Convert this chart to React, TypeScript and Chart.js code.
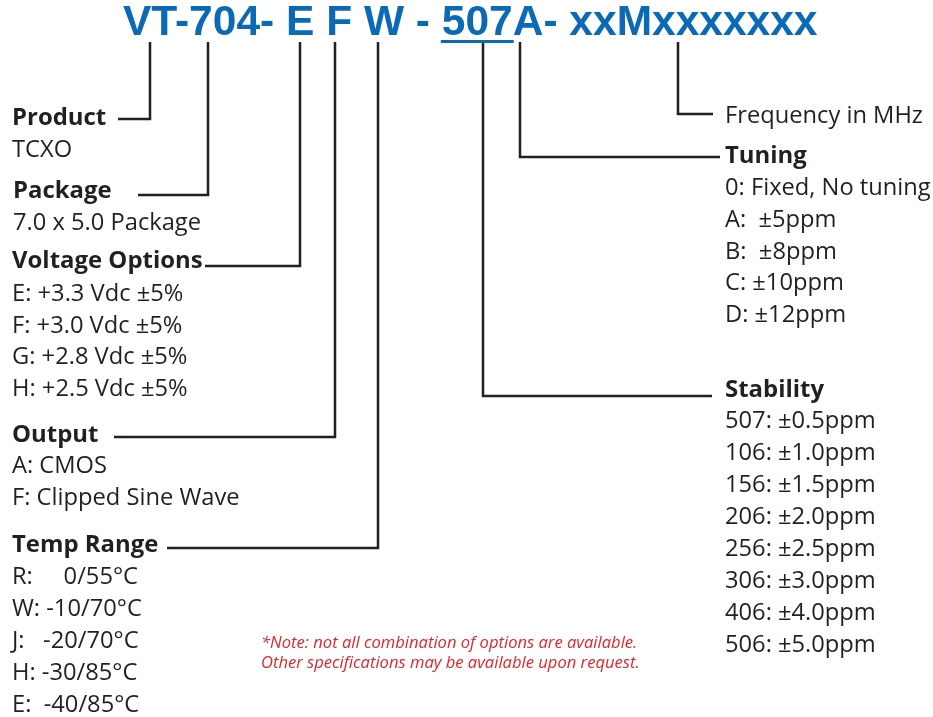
import { useEffect, useRef } from "react";
import { Chart, registerables } from "chart.js";

Chart.register(...registerables);

// ---------- content ----------
const titleText = "VT-704- E F W - 507A- xxMxxxxxxx";
const titleUnderlinePrefix = "VT-704- E F W - ";
const titleUnderlinePart = "507";

const productItems = ["TCXO"];
const packageItems = ["7.0 x 5.0 Package"];
const voltageItems = ["E: +3.3 Vdc \u00B15%", "F: +3.0 Vdc \u00B15%", "G: +2.8 Vdc \u00B15%", "H: +2.5 Vdc \u00B15%"];
const outputItems = ["A: CMOS", "F: Clipped Sine Wave"];
const tempItems = ["R:     0/55\u00B0C", "W: -10/70\u00B0C", "J:   -20/70\u00B0C", "H: -30/85\u00B0C", "E:  -40/85\u00B0C"];
const frequencyLabel = "Frequency in MHz";
const tuningItems = ["0: Fixed, No tuning", "A:  \u00B15ppm", "B:  \u00B18ppm", "C: \u00B110ppm", "D: \u00B112ppm"];
const stabilityItems = ["507: \u00B10.5ppm", "106: \u00B11.0ppm", "156: \u00B11.5ppm", "206: \u00B12.0ppm", "256: \u00B12.5ppm", "306: \u00B13.0ppm", "406: \u00B14.0ppm", "506: \u00B15.0ppm"];
const noteLines = ["*Note: not all combination of options are available.", "Other specifications may be available upon request."];

// connector geometry (diagram units, 1 unit = 1 px)
const connectorX = [150, 208, 300, 335, 378, 483, 520, 678];
const connectorElbowY = [119, 195, 266, 437, 548, 396, 157, 114];
const connectorEndX = [118, 138, 205, 114, 167, 712, 720, 713];
const connectorTopY = 42;

// ---------- layout / style ----------
const W = 933;
const H = 717;
const INK = "#231f20";
const BLUE = "#0a6ab6";
const RED = "#e3242b";
const BODY_FONT = "'Open Sans', 'Noto Sans', sans-serif";
const BODY_SIZE = 23;
const BODY_SX = 1.03;
const HEAD_SX = 1.04;
const NOTE_SIZE = 17;
const NOTE_SX = 0.975;

type Section = { heading: string | null; items: string[]; x: number; headY: number; itemY: number; step: number };
const sections: Section[] = [
  { heading: "Product", items: productItems, x: 12, headY: 125, itemY: 157, step: 32 },
  { heading: "Package", items: packageItems, x: 13, headY: 198, itemY: 230, step: 32 },
  { heading: "Voltage Options", items: voltageItems, x: 12, headY: 268, itemY: 301, step: 31.7 },
  { heading: "Output", items: outputItems, x: 12, headY: 442, itemY: 473, step: 32 },
  { heading: "Temp Range", items: tempItems, x: 12, headY: 552, itemY: 584, step: 32 },
  { heading: null, items: [frequencyLabel], x: 725, headY: 0, itemY: 123, step: 32 },
  { heading: "Tuning", items: tuningItems, x: 725, headY: 163, itemY: 195, step: 31.8 },
  { heading: "Stability", items: stabilityItems, x: 725, headY: 397, itemY: 428, step: 32 },
];

function drawScaledText(ctx: CanvasRenderingContext2D, text: string, x: number, y: number, sx: number) {
  ctx.save();
  ctx.translate(x, y);
  ctx.scale(sx, 1);
  ctx.fillText(text, 0, 0);
  ctx.restore();
}

const textPlugin = {
  id: "diagramText",
  afterDraw(chart: any) {
    const ctx: CanvasRenderingContext2D = chart.ctx;
    const sx = chart.scales.x;
    const sy = chart.scales.y;
    const px = (v: number) => sx.getPixelForValue(v);
    const py = (v: number) => sy.getPixelForValue(v);
    ctx.save();
    ctx.textBaseline = "alphabetic";
    ctx.textAlign = "left";

    // title
    ctx.fillStyle = BLUE;
    ctx.font = "bold 42.5px 'Liberation Sans', Arial, sans-serif";
    const tx = px(123);
    const ty = py(35);
    ctx.fillText(titleText, tx, ty);
    const pre = ctx.measureText(titleUnderlinePrefix).width;
    const part = ctx.measureText(titleUnderlinePart).width;
    ctx.fillRect(tx + pre - 1, py(40), part + 2, 3);

    // sections
    ctx.fillStyle = INK;
    for (const s of sections) {
      if (s.heading) {
        ctx.font = `bold ${BODY_SIZE}px ${BODY_FONT}`;
        drawScaledText(ctx, s.heading, px(s.x), py(s.headY), HEAD_SX);
      }
      ctx.font = `${BODY_SIZE}px ${BODY_FONT}`;
      s.items.forEach((t, i) => {
        drawScaledText(ctx, t, px(s.x), py(s.itemY + i * s.step), BODY_SX);
      });
    }

    // note
    ctx.fillStyle = RED;
    ctx.font = `italic ${NOTE_SIZE}px ${BODY_FONT}`;
    noteLines.forEach((t, i) => {
      drawScaledText(ctx, t, px(261), py(648 + i * 19.5), NOTE_SX);
    });
    ctx.restore();
  },
};

export default function App() {
  const ref = useRef<HTMLCanvasElement | null>(null);
  useEffect(() => {
    if (!ref.current) return;
    const datasets = connectorX.map((x, i) => ({
      data: [
        { x, y: connectorTopY },
        { x, y: connectorElbowY[i] },
        { x: connectorEndX[i], y: connectorElbowY[i] },
      ],
      showLine: true,
      borderColor: INK,
      borderWidth: 2.5,
      pointRadius: 0,
      fill: false,
      tension: 0,
      borderJoinStyle: "miter" as const,
      borderCapStyle: "butt" as const,
    }));
    const chart = new Chart(ref.current, {
      type: "scatter",
      data: { datasets },
      options: {
        animation: false,
        responsive: false,
        maintainAspectRatio: false,
        devicePixelRatio: 1,
        layout: { padding: 0 },
        events: [],
        scales: {
          x: { type: "linear", min: 0, max: W, display: false },
          y: { type: "linear", min: 0, max: H, reverse: true, display: false },
        },
        plugins: { legend: { display: false }, tooltip: { enabled: false } },
      },
      plugins: [textPlugin],
    });
    return () => chart.destroy();
  }, []);
  return (
    <div style={{ position: "fixed", left: 0, top: 0, width: W, height: H, background: "#fff" }}>
      <canvas ref={ref} width={W} height={H} style={{ display: "block" }} />
    </div>
  );
}
